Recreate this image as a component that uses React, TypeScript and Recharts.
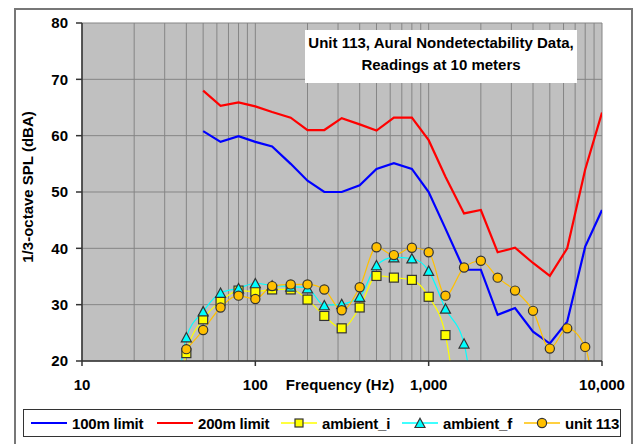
import { CartesianGrid, Legend, Line, LineChart, XAxis, YAxis } from "recharts";

// 1/3-octave band centre frequencies (Hz)
const FREQS = [
  31.5, 40, 50, 63, 80, 100, 125, 160, 200, 250, 315, 400, 500, 630, 800,
  1000, 1250, 1600, 2000, 2500, 3150, 4000, 5000, 6300, 8000, 10000,
];

const LIMIT_100M = [
  null, null, 60.8, 58.9, 59.9, 58.9, 58.1, 55.0, 52.0, 50.0, 50.0, 51.2,
  54.1, 55.1, 54.1, 50.0, 43.5, 36.2, 36.2, 28.2, 29.4, 25.2, 23.1, 27.0,
  40.3, 46.8,
];
const LIMIT_200M = [
  null, null, 68.0, 65.3, 65.9, 65.2, 64.2, 63.2, 61.0, 61.0, 63.1, 62.0,
  60.9, 63.2, 63.2, 59.2, 52.7, 46.2, 46.8, 39.3, 40.1, 37.4, 35.1, 40.0,
  54.0, 64.1,
];
const AMBIENT_I = [
  0, 21.4, 27.4, 30.6, 32.5, 32.3, 32.7, 32.7, 30.9, 28.0, 25.8, 29.5, 35.1,
  34.8, 34.4, 31.4, 24.6, 0, null, null, null, null, null, null, null, null,
];
const AMBIENT_F = [
  0, 24.2, 28.8, 32.1, 32.9, 33.8, 33.4, 33.2, 32.9, 29.9, 30.1, 31.4, 37.0,
  38.4, 38.2, 36.0, 29.3, 23.1, 0, null, null, null, null, null, null, null,
];
const UNIT_113 = [
  null, 22.1, 25.5, 29.5, 31.6, 31.0, 33.3, 33.6, 33.6, 32.7, 29.0, 33.1,
  40.2, 38.8, 40.1, 39.3, 31.6, 36.6, 37.8, 34.8, 32.5, 28.9, 22.2, 25.8,
  22.5, 0,
];

const X_TICKS = [
  10, 20, 30, 40, 50, 60, 70, 80, 90, 100, 200, 300, 400, 500, 600, 700, 800,
  900, 1000, 2000, 3000, 4000, 5000, 6000, 7000, 8000, 9000, 10000,
];
const X_LABELLED = [10, 100, 1000, 10000];
const Y_TICKS = [20, 30, 40, 50, 60, 70, 80];

const LEGEND_NAMES = ["100m limit", "200m limit", "ambient_i", "ambient_f", "unit 113"];
const LEGEND_X = [7, 133, 257, 378, 500];

const FONT = '"Liberation Sans", Arial, sans-serif';
const INK = "#333";
const YELLOW = "#FFFF00";
const CYAN = "#00FFFF";
const ORANGE = "#FFC000";

const data = FREQS.map((freq, i) => ({
  freq,
  limit100: LIMIT_100M[i],
  limit200: LIMIT_200M[i],
  ambientI: AMBIENT_I[i],
  ambientF: AMBIENT_F[i],
  unit113: UNIT_113[i],
}));

function Square({ cx, cy, size = 9 }: { cx: number; cy: number; size?: number }) {
  return (
    <rect
      fill={YELLOW}
      height={size}
      stroke={INK}
      strokeWidth={1.2}
      width={size}
      x={cx - size / 2}
      y={cy - size / 2}
    />
  );
}

function Triangle({ cx, cy }: { cx: number; cy: number }) {
  return (
    <polygon
      fill={CYAN}
      points={`${cx},${cy - 4.8} ${cx + 5},${cy + 4.5} ${cx - 5},${cy + 4.5}`}
      stroke={INK}
      strokeWidth={1.2}
    />
  );
}

function Circle({ cx, cy }: { cx: number; cy: number }) {
  return <circle cx={cx} cy={cy} fill={ORANGE} r={4.6} stroke={INK} strokeWidth={1.2} />;
}

function dotWith(Marker: typeof Square) {
  return (props: any) => {
    const { cx, cy, value, index } = props;
    if (value == null || cx == null || cy == null) return <g key={index} />;
    return (
      <g key={index}>
        <Marker cx={cx} cy={cy} />
      </g>
    );
  };
}

function FreqTick({ x, y, payload }: any) {
  if (!X_LABELLED.includes(payload.value)) return <g />;
  return (
    <g>
      <line stroke={INK} strokeWidth={1.5} x1={x} x2={x} y1={y} y2={y + 5} />
      <text
        fill="#000"
        fontSize={15}
        fontWeight="bold"
        textAnchor="middle"
        x={x}
        y={y + 29}
      >
        {payload.value.toLocaleString("en-US")}
      </text>
    </g>
  );
}

function LegendBox() {
  const icons = [
    <line key="a" stroke="#0000FF" strokeWidth={2} x1={0} x2={36} y1={7} y2={7} />,
    <line key="b" stroke="#FF0000" strokeWidth={2} x1={0} x2={36} y1={7} y2={7} />,
    <g key="c">
      <line stroke={YELLOW} strokeWidth={1.5} x1={0} x2={36} y1={7} y2={7} />
      <Square cx={18} cy={7} size={8} />
    </g>,
    <g key="d">
      <line stroke={CYAN} strokeWidth={1.5} x1={0} x2={36} y1={7} y2={7} />
      <Triangle cx={18} cy={7} />
    </g>,
    <g key="e">
      <line stroke={ORANGE} strokeWidth={1.5} x1={0} x2={36} y1={7} y2={7} />
      <Circle cx={18} cy={7} />
    </g>,
  ];
  return (
    <div
      style={{
        position: "relative",
        width: 596,
        height: 26,
        border: "1.5px solid #333",
        background: "#fff",
      }}
    >
      {LEGEND_NAMES.map((name, i) => (
        <div
          key={name}
          style={{
            position: "absolute",
            left: LEGEND_X[i],
            top: 0,
            height: 26,
            display: "flex",
            alignItems: "center",
            whiteSpace: "nowrap",
          }}
        >
          <svg height={14} width={36}>
            {icons[i]}
          </svg>
          <span
            style={{
              marginLeft: 5,
              fontSize: 15,
              fontWeight: "bold",
              letterSpacing: -0.2,
              color: "#000",
            }}
          >
            {name}
          </span>
        </div>
      ))}
    </div>
  );
}

export default function App() {
  return (
    <div
      style={{
        position: "absolute",
        left: 0,
        top: 0,
        width: 634,
        height: 444,
        overflow: "hidden",
        background: "#fff",
        fontFamily: FONT,
      }}
    >
      <div
        style={{
          position: "absolute",
          left: 14,
          top: 8,
          width: 615,
          height: 460,
          border: "2px solid #777",
        }}
      />
      <LineChart
        data={data}
        height={444}
        margin={{ top: 23, right: 32, bottom: 53, left: 22 }}
        width={634}
      >
        <CartesianGrid fill="#C0C0C0" fillOpacity={1} stroke="#858585" />
        <XAxis
          allowDataOverflow
          axisLine={{ stroke: INK, strokeWidth: 1.5 }}
          dataKey="freq"
          domain={[10, 10000]}
          height={30}
          interval={0}
          label={() => (
            <text
              fill="#000"
              fontSize={15}
              fontWeight="bold"
              textAnchor="middle"
              x={340}
              y={390}
            >
              Frequency (Hz)
            </text>
          )}
          scale="log"
          tick={<FreqTick />}
          tickLine={false}
          tickMargin={0}
          tickSize={0}
          ticks={X_TICKS}
          type="number"
        />
        <YAxis
          allowDataOverflow
          axisLine={{ stroke: INK, strokeWidth: 1.5 }}
          domain={[20, 80]}
          interval={0}
          label={() => (
            <text
              fill="#000"
              fontSize={15}
              fontWeight="bold"
              textAnchor="middle"
              transform="rotate(-90 33 187)"
              x={33}
              y={187}
            >
              1/3-octave SPL (dBA)
            </text>
          )}
          tick={{ fill: "#000", fontSize: 15, fontWeight: "bold" }}
          tickLine={{ stroke: INK, strokeWidth: 1.5 }}
          tickMargin={8}
          tickSize={6}
          ticks={Y_TICKS}
          type="number"
          width={60}
        />
        <Legend
          align="center"
          content={() => <LegendBox />}
          layout="horizontal"
          verticalAlign="middle"
          wrapperStyle={{ left: 23, top: 409, width: 598, height: 28 }}
        />
        <Line
          dataKey="limit100"
          dot={false}
          isAnimationActive={false}
          name="100m limit"
          stroke="#0000FF"
          strokeWidth={2.2}
          type="linear"
        />
        <Line
          dataKey="limit200"
          dot={false}
          isAnimationActive={false}
          name="200m limit"
          stroke="#FF0000"
          strokeWidth={2.2}
          type="linear"
        />
        <Line
          dataKey="ambientI"
          dot={dotWith(Square)}
          isAnimationActive={false}
          name="ambient_i"
          stroke={YELLOW}
          strokeWidth={1.2}
          type="monotone"
        />
        <Line
          dataKey="ambientF"
          dot={dotWith(Triangle)}
          isAnimationActive={false}
          name="ambient_f"
          stroke={CYAN}
          strokeWidth={1.2}
          type="monotone"
        />
        <Line
          dataKey="unit113"
          dot={dotWith(Circle)}
          isAnimationActive={false}
          name="unit 113"
          stroke={ORANGE}
          strokeWidth={1.2}
          type="monotone"
        />
      </LineChart>
      <div
        style={{
          position: "absolute",
          left: 305,
          top: 30,
          width: 272,
          height: 53,
          paddingTop: 2,
          boxSizing: "border-box",
          background: "#fff",
          textAlign: "center",
          fontSize: 15,
          fontWeight: "bold",
          lineHeight: "22px",
          color: "#000",
        }}
      >
        Unit 113, Aural Nondetectability Data,
        <br />
        Readings at 10 meters
      </div>
    </div>
  );
}
